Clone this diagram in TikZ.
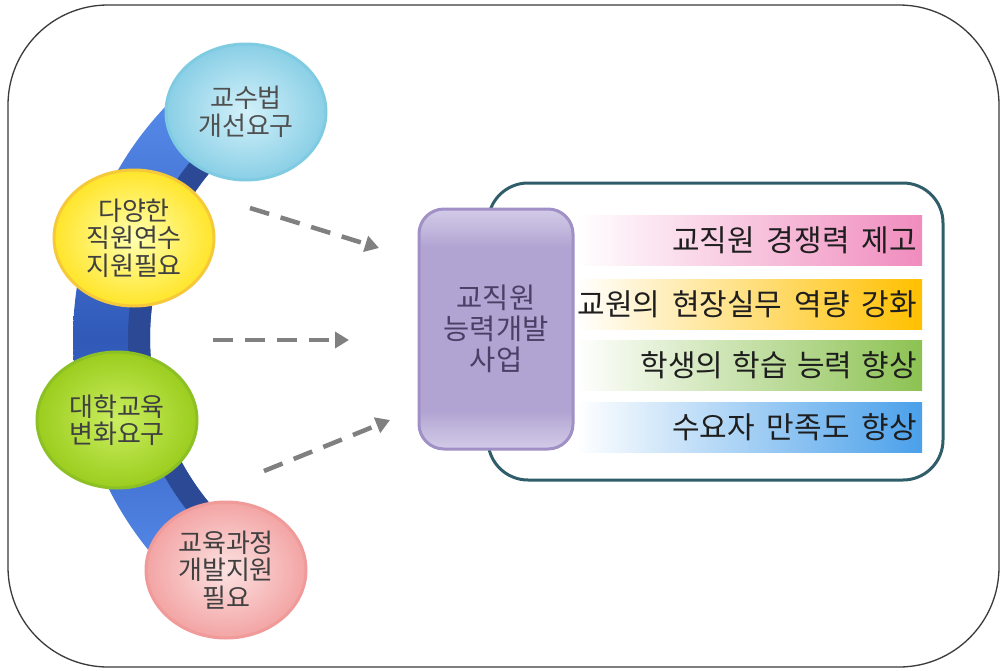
\documentclass[tikz,border=0pt]{standalone}
\usepackage{fontspec}
\newfontfamily\kr{Noto Sans CJK KR}
\usetikzlibrary{shapes.geometric,arrows.meta}
\definecolor{frameline}{HTML}{3A3A3A}
\definecolor{tealline}{HTML}{2F5E6A}
\definecolor{arrowgray}{HTML}{808080}
\definecolor{bandlight}{HTML}{5C93F2}
\definecolor{banddark}{HTML}{3059B8}
\definecolor{bandinner}{HTML}{2B4995}
\definecolor{purpfill}{HTML}{B2A4D2}
\definecolor{purpglow}{HTML}{D3CBE8}
\definecolor{purpline}{HTML}{A090C6}
\definecolor{purptext}{HTML}{4B3F66}
\definecolor{circtext}{HTML}{404040}
\definecolor{circtextb}{HTML}{505050}
\definecolor{bartext}{HTML}{1E1E1E}
\definecolor{bluein}{HTML}{D2F1FA}
\definecolor{blueout}{HTML}{8ACFE6}
\definecolor{blueline}{HTML}{7FCBE2}
\definecolor{yelin}{HTML}{FFFFB0}
\definecolor{yelout}{HTML}{FFE52A}
\definecolor{yelline}{HTML}{F6C93A}
\definecolor{grnin}{HTML}{CBEE60}
\definecolor{grnout}{HTML}{9BCD1E}
\definecolor{grnline}{HTML}{8DC025}
\definecolor{pnkin}{HTML}{FCE2E2}
\definecolor{pnkout}{HTML}{F3A4A4}
\definecolor{pnkline}{HTML}{F09A9A}
\definecolor{barpink}{HTML}{F08CBE}
\definecolor{baryel}{HTML}{FFC000}
\definecolor{bargrn}{HTML}{8CC252}
\definecolor{barblue}{HTML}{4AA0EA}
\pgfdeclareverticalshading{purpglass}{100bp}{color(0bp)=(purpglow); color(25bp)=(purpglow); color(33bp)=(purpfill); color(67bp)=(purpfill); color(75bp)=(purpglow); color(100bp)=(purpglow)}
\newcommand\gap{\hspace{0.4em}}
\newcommand\narrowgap{\hspace{0.31em}}
\newcommand\bartxt[1]{\makebox[336pt][r]{#1}}
\begin{document}
\begin{tikzpicture}[x=1pt,y=-1pt,
  circnode/.style={ellipse, minimum width=160pt, minimum height=136pt, line width=3pt,
    align=center, inner sep=0pt, text=circtext, font=\kr\fontsize{26}{27.5}\selectfont},
  barnode/.style={minimum width=346pt, minimum height=50pt, inner xsep=5pt,
    text=bartext, font=\kr\fontsize{30}{32}\selectfont, left color=white},
  dasharrow/.style={draw=arrowgray, line width=4.5pt, dash pattern=on 20pt off 12pt,
    -{Triangle[length=14pt,width=16pt]}}
]
\fill[white] (0,0) rectangle (1002,670);
% outer frame
\draw[frameline, line width=1.3pt, rounded corners=100pt] (8,5) rectangle (999,667);

% blue arc band
\begin{scope}
  \clip plot[domain=126:237, samples=80] ({409+336*cos(\x)},{338+336*sin(\x)})
    -- plot[domain=237:126, samples=80] ({409+259*cos(\x)},{338+259*sin(\x)}) -- cycle;
  \shade[top color=bandlight, bottom color=bandlight, middle color=banddark] (50,60) rectangle (300,620);
\end{scope}
\draw[bandinner, line width=22pt] plot[domain=127:236, samples=80] ({409+270*cos(\x)},{338+270*sin(\x)});

% circles
\node[circnode, inner color=bluein, outer color=blueout, draw=blueline, text=circtextb] (c1) at (246,112) {교수법\\개선요구};
\node[circnode, inner color=yelin, outer color=yelout, draw=yelline] (c2) at (134,238) {다양한\\직원연수\\지원필요};
\node[circnode, inner color=grnin, outer color=grnout, draw=grnline] (c3) at (117,420) {대학교육\\변화요구};
\node[circnode, inner color=pnkin, outer color=pnkout, draw=pnkline] (c4) at (226,570) {교육과정\\개발지원\\필요};

% right framed box
\node[draw=tealline, line width=3pt, rounded corners=40pt, minimum width=455pt, minimum height=297pt] (goals) at (715.5,331.5) {};

% purple core box
\node[draw=purpline, line width=3pt, rounded corners=25pt, shading=purpglass,
  minimum width=154pt, minimum height=240pt, align=center, text=purptext,
  font=\kr\fontsize{28.5}{31}\selectfont] (core) at (496,329) {교직원\\능력개발\\사업};

% bars
\node[barnode, right color=barpink] (b1) at (749,240) {\bartxt{교직원\gap 경쟁력\gap 제고}};
\node[barnode, right color=baryel] (b2) at (749,304) {\bartxt{교원의\gap 현장실무\gap 역량\gap 강화}};
\node[barnode, right color=bargrn] (b3) at (749,365) {\bartxt{학생의\narrowgap 학습\narrowgap 능력\narrowgap 향상}};
\node[barnode, right color=barblue] (b4) at (749,427) {\bartxt{수요자\gap 만족도\gap 향상}};

% dashed arrows
\coordinate (a1s) at (250,208); \coordinate (a1e) at (379,248);
\coordinate (a2s) at (213,340); \coordinate (a2e) at (349,340);
\coordinate (a3s) at (264,471); \coordinate (a3e) at (390,420);
\draw[dasharrow] (a1s) -- (a1e);
\draw[dasharrow] (a2s) -- (a2e);
\draw[dasharrow] (a3s) -- (a3e);
\end{tikzpicture}
\end{document}
